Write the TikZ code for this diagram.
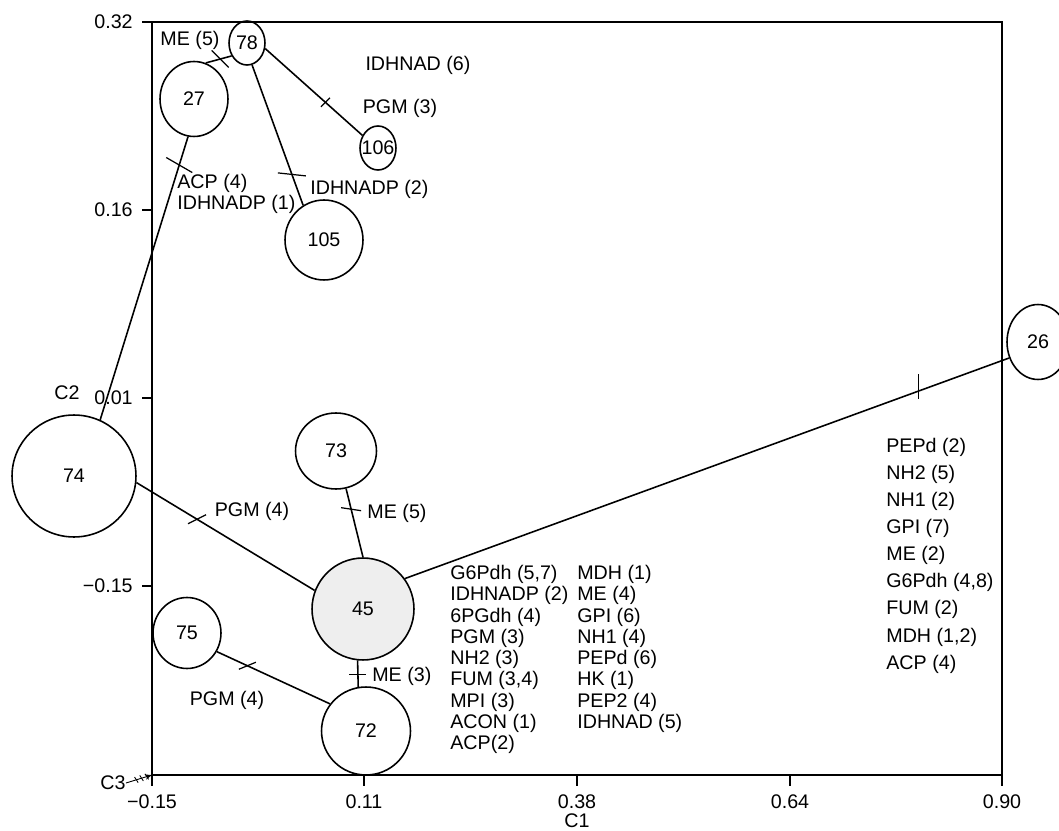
\documentclass[tikz,border=0pt]{standalone}
\usepackage{fontspec}
\setmainfont{Liberation Sans}
\usetikzlibrary{shapes.geometric,arrows.meta,calc}

\begin{document}
\begin{tikzpicture}[x=0.02cm,y=-0.02cm,
    font=\fontsize{11.2}{12.1}\selectfont,
    bub/.style 2 args={draw,ellipse,line width=0.9pt,inner sep=0pt,
      minimum width=#1*0.04cm,minimum height=#2*0.04cm},
    link/.style={line width=0.9pt},
    bar/.style={line width=0.7pt},
    list/.style={anchor=north west,inner sep=0pt,align=left}]
  \useasboundingbox (0,0) rectangle (1059,831);
  % frame and axes
  \draw[line width=0.8pt] (152,22) rectangle (1002,775);
  \draw[line width=1.3pt] (152,22) -- (152,775);
  \foreach \y/\t [count=\i] in {22/0.32,210/0.16,398/0.01,586/−0.15} {
    \draw[line width=0.6pt] (142,\y) -- (152,\y);
    \node[anchor=east,inner sep=0pt] (yt\i) at (133,\y) {\t};
  }
  \foreach \x/\t [count=\i] in {152/−0.15,364/0.11,577/0.38,790/0.64,1002/0.90} {
    \draw[line width=0.6pt] (\x,775) -- (\x,786);
    \node (xt\i) at (\x,802) {\t};
  }
  \node[inner sep=0pt] (c1) at (577,821) {C1};
  \node (c2) at (67,393) {C2};
  \node[inner sep=0pt] (c3) at (113,783) {C3};
  \coordinate (orig) at (152,775);
  \draw[line width=0.5pt,-{Stealth[length=4pt]}] (c3.east) -- (orig);
  \foreach \p in {0.4,0.6,0.8}
    \draw[line width=0.5pt] ($(c3.east)!\p!(orig)$) +(-1.8,-2.8) -- +(1.8,2.8);

  % populations
  \node[bub={18}{22}] (n78) at (247,43) {78};
  \node[bub={34}{37.5}] (n27) at (194,99) {27};
  \node[bub={18}{22}] (n106) at (378,148) {\makebox[0pt]{106}};
  \node[bub={39}{40}] (n105) at (324,240) {105};
  \node[bub={31}{37.5}] (n26) at (1038,342) {26};
  \node[bub={62}{61}] (n74) at (74,476) {74};
  \node[bub={40.5}{38}] (n73) at (336,451) {73};
  \node[bub={51}{51},fill=gray!13] (n45) at (363,609) {45};
  \node[bub={34}{35.5}] (n75) at (187,633) {75};
  \node[bub={44.5}{44}] (n72) at (366,731) {72};

  % links with mutation bars
  \draw[link] (n78.220) -- coordinate[pos=0.44] (b1) (n27.72);
  \draw[link] (n78.-17) -- coordinate[pos=0.62] (b2) (n106.141);
  \draw[link] (n78.283) -- coordinate[pos=0.78] (b3) (n105.121);
  \draw[link] (n27.261) -- coordinate[pos=0.10] (b4) (n74.65);
  \draw[link] (n74.354) -- coordinate[pos=0.34] (b5) (n45.159);
  \draw[link] (n73.285) -- coordinate[pos=0.30] (b6) (n45.90);
  \draw[link] (n45.264) -- coordinate[pos=0.52] (b7) (n72.100);
  \draw[link] (n75.328) -- coordinate[pos=0.27] (b8) (n72.143);
  \draw[link] (n45.36) -- coordinate[pos=0.85] (b9) (n26.209);
  \draw[bar] (b1) ++(-8.5,-8.5) -- ++(17,17);
  \draw[bar] (b2) ++(-4.5,4.5) -- ++(9,-9);
  \draw[bar] (b3) ++(-14,-1.5) -- ++(28,3);
  \draw[bar] (b4) ++(-13,-7.5) -- ++(26,15);
  \draw[bar] (b5) ++(-9,4.5) -- ++(18,-9);
  \draw[bar] (b6) ++(-10,-1.5) -- ++(20,3);
  \draw[bar] (b7) ++(-8.5,0) -- ++(17,0);
  \draw[bar] (b8) ++(-8.5,3.5) -- ++(17,-7);
  \draw[bar] (b9) ++(0,-17) -- ++(0,25);

  % loci
  \node (lme5a) at (190,40) {ME (5)};
  \node (lidh6) at (418,65) {IDHNAD (6)};
  \node (lpgm3) at (400,108) {PGM (3)};
  \node[list] (lacp4) at (177,174) {ACP (4)\\IDHNADP (1)};
  \node[anchor=west,inner sep=0pt] (lidp2) at (310,189) {IDHNADP (2)};
  \node (lpgm4a) at (252,511) {PGM (4)};
  \node (lme5b) at (397,513) {ME (5)};
  \node[anchor=west,inner sep=0pt] (lme3) at (372,676) {ME (3)};
  \node (lpgm4b) at (227,700) {PGM (4)};
  \node[list] (lcol1) at (450,565) {G6Pdh (5,7)\\IDHNADP (2)\\6PGdh (4)\\PGM (3)\\NH2 (3)\\FUM (3,4)\\MPI (3)\\ACON (1)\\ACP(2)};
  \node[list] (lcol2) at (577,565) {MDH (1)\\ME (4)\\GPI (6)\\NH1 (4)\\PEPd (6)\\HK (1)\\PEP2 (4)\\IDHNAD (5)};
  \node[list,font=\fontsize{11.2}{15.4}\selectfont] (lcol3) at (886,438) {PEPd (2)\\NH2 (5)\\NH1 (2)\\GPI (7)\\ME (2)\\G6Pdh (4,8)\\FUM (2)\\MDH (1,2)\\ACP (4)};
\end{tikzpicture}
\end{document}
